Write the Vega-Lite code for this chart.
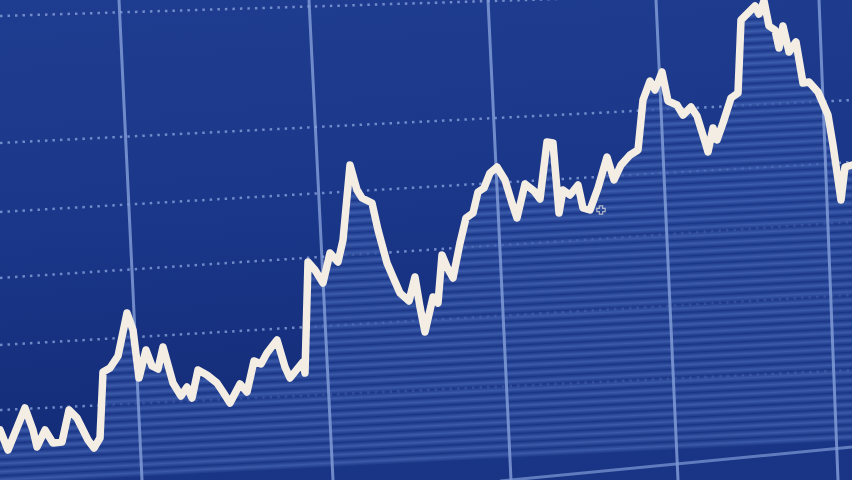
{
  "$schema": "https://vega.github.io/schema/vega-lite/v6.json",
  "width": 852,
  "height": 480,
  "autosize": {"type": "fit", "contains": "padding"},
  "padding": 0,
  "background": "#18348a",
  "config": {"view": {"stroke": null}},
  "datasets": {
    "price": [
      {"t": 0, "price": 50}, {"t": 8, "price": 30}, {"t": 25, "price": 72}, {"t": 33, "price": 50},
      {"t": 37, "price": 33}, {"t": 45, "price": 50}, {"t": 53, "price": 37}, {"t": 62, "price": 38},
      {"t": 69, "price": 70}, {"t": 77, "price": 62}, {"t": 88, "price": 40}, {"t": 94, "price": 32},
      {"t": 100, "price": 42}, {"t": 103, "price": 108}, {"t": 110, "price": 112}, {"t": 118, "price": 124},
      {"t": 127, "price": 167}, {"t": 133, "price": 150}, {"t": 139, "price": 102}, {"t": 146, "price": 130},
      {"t": 152, "price": 114}, {"t": 158, "price": 111}, {"t": 163, "price": 133}, {"t": 173, "price": 97},
      {"t": 181, "price": 84}, {"t": 187, "price": 93}, {"t": 192, "price": 82}, {"t": 198, "price": 110},
      {"t": 207, "price": 105}, {"t": 217, "price": 97}, {"t": 223, "price": 88}, {"t": 230, "price": 77},
      {"t": 240, "price": 96}, {"t": 247, "price": 88}, {"t": 254, "price": 119}, {"t": 261, "price": 116},
      {"t": 267, "price": 127}, {"t": 277, "price": 140}, {"t": 285, "price": 113}, {"t": 290, "price": 102},
      {"t": 298, "price": 112}, {"t": 303, "price": 118}, {"t": 305, "price": 107}, {"t": 308, "price": 218},
      {"t": 315, "price": 210}, {"t": 323, "price": 197}, {"t": 330, "price": 227}, {"t": 338, "price": 218},
      {"t": 343, "price": 240}, {"t": 350, "price": 315}, {"t": 357, "price": 290}, {"t": 362, "price": 282},
      {"t": 372, "price": 277}, {"t": 378, "price": 250}, {"t": 387, "price": 217}, {"t": 393, "price": 203},
      {"t": 400, "price": 187}, {"t": 409, "price": 179}, {"t": 415, "price": 203}, {"t": 420, "price": 173},
      {"t": 425, "price": 148}, {"t": 433, "price": 183}, {"t": 438, "price": 177}, {"t": 442, "price": 225},
      {"t": 447, "price": 213}, {"t": 453, "price": 202}, {"t": 460, "price": 237}, {"t": 466, "price": 262},
      {"t": 473, "price": 267}, {"t": 478, "price": 288}, {"t": 484, "price": 292}, {"t": 490, "price": 307},
      {"t": 497, "price": 313}, {"t": 505, "price": 300}, {"t": 512, "price": 277}, {"t": 517, "price": 262},
      {"t": 525, "price": 296}, {"t": 534, "price": 289}, {"t": 540, "price": 281}, {"t": 547, "price": 338},
      {"t": 553, "price": 337}, {"t": 559, "price": 267}, {"t": 563, "price": 290}, {"t": 570, "price": 285},
      {"t": 578, "price": 295}, {"t": 583, "price": 272}, {"t": 590, "price": 270}, {"t": 598, "price": 292},
      {"t": 607, "price": 323}, {"t": 614, "price": 300}, {"t": 621, "price": 315}, {"t": 630, "price": 325},
      {"t": 638, "price": 330}, {"t": 643, "price": 380}, {"t": 650, "price": 399}, {"t": 655, "price": 390},
      {"t": 662, "price": 408}, {"t": 668, "price": 379}, {"t": 677, "price": 375}, {"t": 683, "price": 365},
      {"t": 691, "price": 373}, {"t": 697, "price": 364}, {"t": 706, "price": 335}, {"t": 708, "price": 328},
      {"t": 713, "price": 352}, {"t": 717, "price": 340}, {"t": 723, "price": 357}, {"t": 731, "price": 382},
      {"t": 738, "price": 387}, {"t": 741, "price": 460}, {"t": 748, "price": 467}, {"t": 755, "price": 474},
      {"t": 759, "price": 466}, {"t": 764, "price": 479}, {"t": 769, "price": 454}, {"t": 775, "price": 450},
      {"t": 779, "price": 432}, {"t": 783, "price": 454}, {"t": 789, "price": 428}, {"t": 796, "price": 438},
      {"t": 803, "price": 397}, {"t": 809, "price": 398}, {"t": 818, "price": 388}, {"t": 828, "price": 365},
      {"t": 833, "price": 335}, {"t": 841, "price": 280}, {"t": 845, "price": 313}, {"t": 852, "price": 315}
    ],
    "vgrid": [
      {"x1": 119, "x2": 142, "y1": 480, "y2": 0},
      {"x1": 309, "x2": 333, "y1": 480, "y2": 0},
      {"x1": 488, "x2": 511, "y1": 480, "y2": 0},
      {"x1": 656, "x2": 678, "y1": 480, "y2": 0},
      {"x1": 819, "x2": 838, "y1": 480, "y2": 0}
    ],
    "hgrid": [
      {"x1": 0, "x2": 852, "y1": 464, "y2": 490},
      {"x1": 0, "x2": 852, "y1": 337, "y2": 380},
      {"x1": 0, "x2": 852, "y1": 268, "y2": 318},
      {"x1": 0, "x2": 852, "y1": 202, "y2": 258},
      {"x1": 0, "x2": 852, "y1": 135, "y2": 185},
      {"x1": 0, "x2": 852, "y1": 70, "y2": 110}
    ],
    "base": [
      {"x1": 500, "x2": 852, "y1": -1, "y2": 33}
    ],
    "cursor": [
      {"t": 601, "price": 270}
    ]
  },
  "layer": [
    {
      "data": {"values": [{"x0": 0, "x1": 852, "y0": 0, "y1": 480}]},
      "mark": {
        "type": "rect",
        "fill": {
          "gradient": "linear", "x1": 0, "y1": 0, "x2": 0.15, "y2": 1,
          "stops": [
            {"offset": 0, "color": "#1f3d90"},
            {"offset": 0.5, "color": "#1a3688"},
            {"offset": 1, "color": "#132b76"}
          ]
        }
      },
      "encoding": {
        "x": {"field": "x0", "type": "quantitative", "scale": {"domain": [0, 852], "nice": false, "zero": false}, "axis": null},
        "x2": {"field": "x1"},
        "y": {"field": "y0", "type": "quantitative", "scale": {"domain": [0, 480], "nice": false, "zero": false}, "axis": null},
        "y2": {"field": "y1"}
      }
    },
    {
      "data": {"name": "hgrid"},
      "mark": {"type": "rule", "clip": true, "color": "#8ea6df", "strokeWidth": 2.5, "strokeDash": [2.5, 5], "opacity": 0.75},
      "encoding": {
        "x": {"field": "x1", "type": "quantitative"},
        "x2": {"field": "x2"},
        "y": {"field": "y1", "type": "quantitative"},
        "y2": {"field": "y2"}
      }
    },
    {
      "data": {"name": "price"},
      "mark": {
        "type": "area",
        "interpolate": "linear",
        "opacity": 0.8,
        "fill": {
          "gradient": "linear", "x1": 0, "y1": 0, "x2": 0.09, "y2": 1,
          "stops": [
            {"offset": 0, "color": "#1b3789"}, {"offset": 0.0083, "color": "#4465b4"}, {"offset": 0.0167, "color": "#1b3789"}, {"offset": 0.025, "color": "#4465b4"},
            {"offset": 0.0333, "color": "#1b3789"}, {"offset": 0.0417, "color": "#4465b4"}, {"offset": 0.05, "color": "#1b3789"}, {"offset": 0.0583, "color": "#4465b4"},
            {"offset": 0.0667, "color": "#1b3789"}, {"offset": 0.075, "color": "#4465b4"}, {"offset": 0.0833, "color": "#1b3789"}, {"offset": 0.0917, "color": "#4465b4"},
            {"offset": 0.1, "color": "#1b3789"}, {"offset": 0.1083, "color": "#4465b4"}, {"offset": 0.1167, "color": "#1b3789"}, {"offset": 0.125, "color": "#4465b4"},
            {"offset": 0.1333, "color": "#1b3789"}, {"offset": 0.1417, "color": "#4465b4"}, {"offset": 0.15, "color": "#1b3789"}, {"offset": 0.1583, "color": "#4465b4"},
            {"offset": 0.1667, "color": "#1b3789"}, {"offset": 0.175, "color": "#4465b4"}, {"offset": 0.1833, "color": "#1b3789"}, {"offset": 0.1917, "color": "#4465b4"},
            {"offset": 0.2, "color": "#1b3789"}, {"offset": 0.2083, "color": "#4465b4"}, {"offset": 0.2167, "color": "#1b3789"}, {"offset": 0.225, "color": "#4465b4"},
            {"offset": 0.2333, "color": "#1b3789"}, {"offset": 0.2417, "color": "#4465b4"}, {"offset": 0.25, "color": "#1b3789"}, {"offset": 0.2583, "color": "#4465b4"},
            {"offset": 0.2667, "color": "#1b3789"}, {"offset": 0.275, "color": "#4465b4"}, {"offset": 0.2833, "color": "#1b3789"}, {"offset": 0.2917, "color": "#4465b4"},
            {"offset": 0.3, "color": "#1b3789"}, {"offset": 0.3083, "color": "#4465b4"}, {"offset": 0.3167, "color": "#1b3789"}, {"offset": 0.325, "color": "#4465b4"},
            {"offset": 0.3333, "color": "#1b3789"}, {"offset": 0.3417, "color": "#4465b4"}, {"offset": 0.35, "color": "#1b3789"}, {"offset": 0.3583, "color": "#4465b4"},
            {"offset": 0.3667, "color": "#1b3789"}, {"offset": 0.375, "color": "#4465b4"}, {"offset": 0.3833, "color": "#1b3789"}, {"offset": 0.3917, "color": "#4465b4"},
            {"offset": 0.4, "color": "#1b3789"}, {"offset": 0.4083, "color": "#4465b4"}, {"offset": 0.4167, "color": "#1b3789"}, {"offset": 0.425, "color": "#4465b4"},
            {"offset": 0.4333, "color": "#1b3789"}, {"offset": 0.4417, "color": "#4465b4"}, {"offset": 0.45, "color": "#1b3789"}, {"offset": 0.4583, "color": "#4465b4"},
            {"offset": 0.4667, "color": "#1b3789"}, {"offset": 0.475, "color": "#4465b4"}, {"offset": 0.4833, "color": "#1b3789"}, {"offset": 0.4917, "color": "#4465b4"},
            {"offset": 0.5, "color": "#1b3789"}, {"offset": 0.5083, "color": "#4465b4"}, {"offset": 0.5167, "color": "#1b3789"}, {"offset": 0.525, "color": "#4465b4"},
            {"offset": 0.5333, "color": "#1b3789"}, {"offset": 0.5417, "color": "#4465b4"}, {"offset": 0.55, "color": "#1b3789"}, {"offset": 0.5583, "color": "#4465b4"},
            {"offset": 0.5667, "color": "#1b3789"}, {"offset": 0.575, "color": "#4465b4"}, {"offset": 0.5833, "color": "#1b3789"}, {"offset": 0.5917, "color": "#4465b4"},
            {"offset": 0.6, "color": "#1b3789"}, {"offset": 0.6083, "color": "#4465b4"}, {"offset": 0.6167, "color": "#1b3789"}, {"offset": 0.625, "color": "#4465b4"},
            {"offset": 0.6333, "color": "#1b3789"}, {"offset": 0.6417, "color": "#4465b4"}, {"offset": 0.65, "color": "#1b3789"}, {"offset": 0.6583, "color": "#4465b4"},
            {"offset": 0.6667, "color": "#1b3789"}, {"offset": 0.675, "color": "#4465b4"}, {"offset": 0.6833, "color": "#1b3789"}, {"offset": 0.6917, "color": "#4465b4"},
            {"offset": 0.7, "color": "#1b3789"}, {"offset": 0.7083, "color": "#4465b4"}, {"offset": 0.7167, "color": "#1b3789"}, {"offset": 0.725, "color": "#4465b4"},
            {"offset": 0.7333, "color": "#1b3789"}, {"offset": 0.7417, "color": "#4465b4"}, {"offset": 0.75, "color": "#1b3789"}, {"offset": 0.7583, "color": "#4465b4"},
            {"offset": 0.7667, "color": "#1b3789"}, {"offset": 0.775, "color": "#4465b4"}, {"offset": 0.7833, "color": "#1b3789"}, {"offset": 0.7917, "color": "#4465b4"},
            {"offset": 0.8, "color": "#1b3789"}, {"offset": 0.8083, "color": "#4465b4"}, {"offset": 0.8167, "color": "#1b3789"}, {"offset": 0.825, "color": "#4465b4"},
            {"offset": 0.8333, "color": "#1b3789"}, {"offset": 0.8417, "color": "#4465b4"}, {"offset": 0.85, "color": "#1b3789"}, {"offset": 0.8583, "color": "#4465b4"},
            {"offset": 0.8667, "color": "#1b3789"}, {"offset": 0.875, "color": "#4465b4"}, {"offset": 0.8833, "color": "#1b3789"}, {"offset": 0.8917, "color": "#4465b4"},
            {"offset": 0.9, "color": "#1b3789"}, {"offset": 0.9083, "color": "#4465b4"}, {"offset": 0.9167, "color": "#1b3789"}, {"offset": 0.925, "color": "#4465b4"},
            {"offset": 0.9333, "color": "#1b3789"}, {"offset": 0.9417, "color": "#4465b4"}, {"offset": 0.95, "color": "#1b3789"}, {"offset": 0.9583, "color": "#4465b4"},
            {"offset": 0.9667, "color": "#1b3789"}, {"offset": 0.975, "color": "#4465b4"}, {"offset": 0.9833, "color": "#1b3789"}, {"offset": 0.9917, "color": "#4465b4"},
            {"offset": 1, "color": "#1b3789"}
          ]
        }
      },
      "encoding": {
        "x": {"field": "t", "type": "quantitative"},
        "y": {"field": "price", "type": "quantitative"}
      }
    },
    {
      "data": {"name": "vgrid"},
      "mark": {"type": "rule", "clip": true, "color": "#86a0da", "strokeWidth": 3, "opacity": 0.8},
      "encoding": {
        "x": {"field": "x1", "type": "quantitative"},
        "x2": {"field": "x2"},
        "y": {"field": "y1", "type": "quantitative"},
        "y2": {"field": "y2"}
      }
    },
    {
      "data": {"name": "base"},
      "mark": {"type": "rule", "clip": true, "color": "#7f9ad6", "strokeWidth": 3, "opacity": 0.7},
      "encoding": {
        "x": {"field": "x1", "type": "quantitative"},
        "x2": {"field": "x2"},
        "y": {"field": "y1", "type": "quantitative"},
        "y2": {"field": "y2"}
      }
    },
    {
      "data": {"name": "price"},
      "mark": {"type": "line", "clip": true, "color": "#f3ede3", "strokeWidth": 7.5, "strokeJoin": "round", "strokeCap": "round", "interpolate": "linear"},
      "encoding": {
        "x": {"field": "t", "type": "quantitative"},
        "y": {"field": "price", "type": "quantitative"}
      }
    },
    {
      "data": {"name": "cursor"},
      "mark": {"type": "point", "shape": "cross", "size": 70, "filled": false, "stroke": "#e8e4dc", "strokeWidth": 1.2},
      "encoding": {
        "x": {"field": "t", "type": "quantitative"},
        "y": {"field": "price", "type": "quantitative"}
      }
    }
  ]
}
